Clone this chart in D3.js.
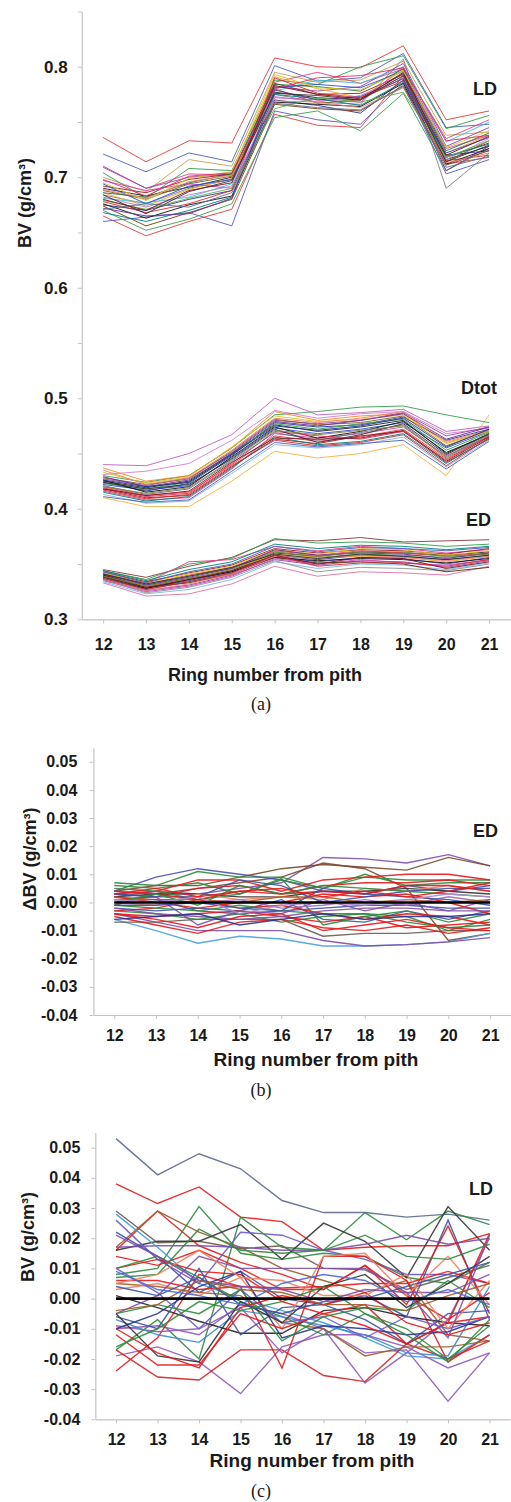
<!DOCTYPE html>
<html>
<head>
<meta charset="utf-8">
<script src="https://cdn.jsdelivr.net/npm/d3@7"></script>
<style>
  body { margin: 0; background: #fff; }
  svg { display: block; }
  .tick text { font-family: "Liberation Sans", Arial, sans-serif; font-weight: bold; fill: #1a1a1a; }
  .lbl { font-family: "Liberation Sans", Arial, sans-serif; font-weight: bold; fill: #1a1a1a; }
  .cap { font-family: "Liberation Serif", "Times New Roman", serif; fill: #1a1a1a; }
</style>
</head>
<body>
<div id="chart"></div>
<script>
// ring numbers (x categories)
var rings = [12, 13, 14, 15, 16, 17, 18, 19, 20, 21];

// tick labels
var ticksA = [0.3, 0.35, 0.4, 0.45, 0.5, 0.55, 0.6, 0.65, 0.7, 0.75, 0.8, 0.85];
var ticksDelta = [-0.04, -0.03, -0.02, -0.01, 0, 0.01, 0.02, 0.03, 0.04, 0.05];

// (a) LD, one row per tree
var ldA = [
  [0.736,0.714,0.733,0.731,0.808,0.800,0.799,0.819,0.752,0.760],
  [0.721,0.705,0.722,0.714,0.801,0.787,0.790,0.812,0.745,0.748],
  [0.665,0.647,0.660,0.671,0.757,0.747,0.745,0.792,0.712,0.718],
  [0.660,0.664,0.668,0.656,0.760,0.752,0.748,0.785,0.703,0.716],
  [0.684,0.676,0.690,0.698,0.775,0.768,0.766,0.807,0.690,0.722],
  [0.670,0.652,0.662,0.676,0.754,0.760,0.742,0.776,0.706,0.726],
  [0.700,0.687,0.716,0.710,0.795,0.786,0.788,0.805,0.738,0.741],
  [0.704,0.681,0.708,0.706,0.788,0.784,0.800,0.810,0.744,0.756],
  [0.709,0.690,0.703,0.702,0.786,0.795,0.785,0.798,0.735,0.752],
  [0.710,0.690,0.700,0.703,0.782,0.778,0.782,0.803,0.728,0.745],
  [0.690,0.683,0.691,0.700,0.777,0.772,0.770,0.795,0.716,0.728],
  [0.688,0.680,0.694,0.701,0.780,0.767,0.770,0.790,0.714,0.733],
  [0.692,0.686,0.698,0.703,0.785,0.775,0.776,0.793,0.718,0.731],
  [0.686,0.674,0.689,0.699,0.791,0.780,0.772,0.797,0.722,0.738],
  [0.681,0.677,0.682,0.694,0.778,0.788,0.785,0.800,0.732,0.750],
  [0.697,0.688,0.694,0.690,0.772,0.770,0.768,0.800,0.726,0.738],
  [0.675,0.670,0.680,0.688,0.770,0.765,0.758,0.788,0.720,0.724],
  [0.686,0.682,0.695,0.703,0.784,0.782,0.778,0.798,0.724,0.740],
  [0.678,0.668,0.676,0.688,0.790,0.776,0.772,0.787,0.715,0.720],
  [0.676,0.663,0.675,0.683,0.768,0.766,0.764,0.785,0.712,0.726],
  [0.674,0.656,0.668,0.680,0.766,0.762,0.760,0.783,0.711,0.724],
  [0.682,0.673,0.684,0.692,0.773,0.768,0.774,0.791,0.716,0.735],
  [0.668,0.660,0.670,0.682,0.775,0.771,0.765,0.786,0.719,0.730],
  [0.694,0.676,0.692,0.698,0.781,0.784,0.781,0.796,0.722,0.736],
  [0.689,0.681,0.696,0.702,0.769,0.768,0.763,0.781,0.713,0.722],
  [0.672,0.665,0.667,0.681,0.779,0.770,0.773,0.789,0.706,0.728],
  [0.695,0.679,0.699,0.705,0.793,0.781,0.779,0.796,0.727,0.742],
  [0.679,0.671,0.681,0.690,0.762,0.772,0.768,0.777,0.718,0.733],
  [0.684,0.667,0.687,0.697,0.776,0.774,0.770,0.792,0.714,0.729],
  [0.698,0.683,0.701,0.704,0.780,0.790,0.792,0.799,0.733,0.738],
  [0.671,0.676,0.673,0.686,0.767,0.763,0.761,0.782,0.709,0.719],
  [0.680,0.670,0.688,0.695,0.783,0.775,0.771,0.794,0.720,0.737]
];

// (a) Dtot
var dtotA = [
  [0.440,0.439,0.450,0.467,0.500,0.485,0.487,0.490,0.470,0.475],
  [0.431,0.434,0.441,0.462,0.489,0.482,0.486,0.488,0.468,0.473],
  [0.410,0.402,0.402,0.425,0.452,0.446,0.450,0.458,0.430,0.485],
  [0.430,0.424,0.430,0.455,0.485,0.488,0.492,0.493,0.485,0.478],
  [0.437,0.425,0.430,0.455,0.488,0.480,0.484,0.486,0.460,0.470],
  [0.425,0.419,0.425,0.450,0.476,0.470,0.474,0.480,0.450,0.468],
  [0.422,0.417,0.421,0.446,0.473,0.468,0.472,0.478,0.455,0.470],
  [0.420,0.412,0.415,0.440,0.466,0.461,0.465,0.472,0.445,0.466],
  [0.418,0.410,0.412,0.438,0.463,0.459,0.466,0.470,0.442,0.463],
  [0.424,0.416,0.423,0.448,0.478,0.474,0.476,0.483,0.462,0.472],
  [0.427,0.421,0.428,0.451,0.480,0.477,0.480,0.487,0.466,0.474],
  [0.416,0.408,0.410,0.436,0.468,0.464,0.468,0.474,0.448,0.465],
  [0.413,0.405,0.407,0.432,0.458,0.455,0.458,0.465,0.438,0.462],
  [0.428,0.422,0.427,0.452,0.481,0.476,0.478,0.484,0.457,0.471],
  [0.423,0.418,0.424,0.449,0.477,0.472,0.477,0.481,0.453,0.469],
  [0.426,0.415,0.420,0.447,0.474,0.464,0.470,0.479,0.451,0.467],
  [0.419,0.411,0.414,0.441,0.470,0.466,0.463,0.470,0.444,0.466],
  [0.415,0.407,0.411,0.437,0.465,0.458,0.461,0.468,0.441,0.464],
  [0.433,0.423,0.429,0.456,0.484,0.479,0.481,0.485,0.459,0.470],
  [0.421,0.413,0.418,0.443,0.469,0.462,0.469,0.476,0.447,0.468],
  [0.417,0.409,0.413,0.439,0.462,0.457,0.460,0.467,0.439,0.464],
  [0.429,0.420,0.426,0.450,0.479,0.475,0.480,0.486,0.463,0.474],
  [0.411,0.406,0.408,0.434,0.460,0.456,0.459,0.462,0.436,0.461],
  [0.424,0.418,0.422,0.445,0.472,0.460,0.467,0.477,0.449,0.468],
  [0.435,0.422,0.428,0.453,0.482,0.478,0.482,0.488,0.461,0.471],
  [0.420,0.414,0.419,0.444,0.471,0.467,0.471,0.475,0.446,0.467],
  [0.418,0.412,0.416,0.442,0.464,0.463,0.464,0.471,0.443,0.465],
  [0.426,0.420,0.424,0.449,0.475,0.471,0.475,0.482,0.456,0.472]
];

// (a) ED
var edA = [
  [0.345,0.338,0.348,0.356,0.372,0.371,0.374,0.370,0.371,0.372],
  [0.344,0.336,0.350,0.355,0.373,0.369,0.370,0.369,0.366,0.368],
  [0.333,0.321,0.323,0.332,0.348,0.339,0.343,0.342,0.340,0.348],
  [0.340,0.333,0.352,0.354,0.366,0.362,0.366,0.364,0.360,0.363],
  [0.340,0.330,0.337,0.344,0.360,0.357,0.361,0.360,0.358,0.361],
  [0.342,0.332,0.340,0.347,0.362,0.358,0.362,0.360,0.357,0.360],
  [0.338,0.327,0.334,0.342,0.357,0.352,0.356,0.355,0.350,0.356],
  [0.336,0.326,0.331,0.340,0.354,0.349,0.353,0.352,0.347,0.353],
  [0.343,0.334,0.342,0.349,0.364,0.360,0.363,0.362,0.359,0.364],
  [0.337,0.328,0.335,0.343,0.358,0.354,0.358,0.357,0.354,0.358],
  [0.341,0.331,0.339,0.346,0.361,0.356,0.359,0.358,0.356,0.359],
  [0.339,0.330,0.336,0.345,0.359,0.356,0.357,0.356,0.352,0.357],
  [0.335,0.325,0.330,0.339,0.355,0.350,0.354,0.351,0.349,0.354],
  [0.334,0.323,0.327,0.336,0.352,0.346,0.350,0.349,0.345,0.351],
  [0.342,0.333,0.341,0.348,0.363,0.359,0.364,0.363,0.358,0.362],
  [0.339,0.328,0.336,0.343,0.356,0.353,0.355,0.354,0.351,0.355],
  [0.336,0.324,0.329,0.338,0.353,0.343,0.347,0.346,0.344,0.350],
  [0.344,0.335,0.345,0.352,0.368,0.364,0.367,0.366,0.363,0.366],
  [0.338,0.329,0.333,0.341,0.356,0.351,0.352,0.350,0.343,0.347],
  [0.341,0.331,0.338,0.346,0.363,0.358,0.360,0.359,0.355,0.360],
  [0.337,0.326,0.332,0.341,0.357,0.355,0.358,0.356,0.353,0.357],
  [0.343,0.333,0.343,0.350,0.366,0.361,0.365,0.364,0.362,0.365],
  [0.340,0.329,0.336,0.344,0.358,0.350,0.356,0.355,0.346,0.352],
  [0.339,0.330,0.337,0.345,0.361,0.357,0.361,0.361,0.357,0.359],
  [0.337,0.327,0.334,0.342,0.358,0.348,0.351,0.351,0.348,0.354],
  [0.341,0.332,0.339,0.347,0.359,0.355,0.359,0.357,0.354,0.358]
];

// (b) ED deviations
var edDelta = [
  [0.002,0.004,0.003,0.005,0.007,0.016,0.0155,0.014,0.017,0.013],
  [0.004,0.006,0.006,0.009,0.012,0.0135,0.0125,0.0115,0.016,0.013],
  [-0.001,0.003,0.005,0.007,0.009,0.014,0.012,0.005,-0.0135,-0.011],
  [0.004,0.009,0.012,0.010,0.008,0.004,0.003,0.006,0.004,0.006],
  [0.007,0.006,0.011,0.009,0.009,0.005,0.009,0.008,0.008,0.008],
  [0.006,0.005,0.007,0.003,0.008,0.005,0.010,0.006,0.007,0.007],
  [0.003,0.004,0.008,0.008,0.004,0.008,0.009,0.010,0.010,0.008],
  [0.001,0.002,0.005,0.006,0.003,0.006,0.007,0.007,0.008,0.006],
  [-0.006,-0.010,-0.0145,-0.012,-0.013,-0.0155,-0.0155,-0.015,-0.014,-0.011],
  [-0.004,-0.007,-0.010,-0.010,-0.010,-0.0135,-0.0155,-0.015,-0.014,-0.0125],
  [-0.007,-0.007,-0.006,-0.006,-0.006,-0.012,-0.011,-0.011,-0.010,-0.010],
  [-0.005,-0.008,-0.011,-0.007,-0.006,-0.009,-0.010,-0.008,-0.011,-0.009],
  [-0.003,-0.004,-0.006,-0.004,-0.007,-0.005,-0.004,-0.005,-0.010,-0.006],
  [-0.002,-0.003,-0.002,-0.003,0.001,-0.006,-0.007,-0.003,-0.006,-0.003],
  [0.001,0.001,-0.003,-0.004,-0.003,-0.002,-0.001,-0.001,-0.002,-0.002],
  [-0.004,-0.005,-0.004,-0.003,-0.005,-0.007,-0.005,-0.009,-0.008,-0.007],
  [0.003,0.002,-0.008,-0.003,-0.004,0.001,-0.003,0.000,-0.003,0.001],
  [0.002,0.003,0.003,0.002,0.002,0.004,0.004,0.005,0.004,0.003],
  [0.005,0.004,0.001,0.003,0.0085,-0.008,-0.005,-0.003,-0.007,-0.004],
  [0.002,0.000,-0.002,0.000,0.000,0.003,0.002,0.003,0.000,-0.004],
  [0.000,-0.001,0.003,0.001,0.002,0.001,0.005,0.004,0.006,0.004],
  [0.003,0.002,0.002,0.008,0.006,0.000,0.002,0.004,0.005,0.005],
  [-0.003,-0.002,0.001,-0.002,-0.001,-0.004,-0.006,-0.004,-0.005,-0.008],
  [0.001,0.001,0.000,0.001,-0.002,-0.001,0.001,-0.001,0.002,0.000],
  [-0.001,-0.002,-0.003,-0.001,-0.003,-0.004,-0.004,-0.007,-0.009,-0.008],
  [0.002,0.001,0.001,0.000,0.002,0.002,0.000,0.001,0.000,0.001],
  [0.004,0.003,0.001,0.004,0.003,0.004,0.003,0.006,0.006,0.004],
  [-0.001,-0.001,0.000,-0.002,-0.003,0.005,0.003,0.002,0.001,-0.001],
  [-0.002,-0.004,-0.005,-0.006,-0.005,-0.003,-0.002,-0.002,-0.003,-0.003],
  [-0.004,-0.006,-0.009,-0.005,-0.004,-0.010,-0.008,-0.006,-0.009,-0.010],
  [0.000,0.003,-0.001,0.006,0.003,0.006,0.005,0.004,0.003,0.002],
  [-0.006,-0.005,-0.004,-0.008,-0.006,-0.004,-0.006,-0.005,-0.005,-0.004],
  [0.001,0.000,0.002,-0.004,-0.001,0.000,-0.001,0.001,0.003,0.002],
  [0.003,0.005,0.002,0.004,0.005,0.002,0.004,0.002,0.004,0.007]
];

// (c) LD deviations
var ldDelta = [
  [0.053,0.041,0.048,0.043,0.0325,0.0285,0.0285,0.027,0.028,0.026],
  [0.038,0.0315,0.037,0.027,0.0255,0.016,0.017,0.0175,0.0175,0.0215],
  [0.029,0.0185,0.019,0.0165,0.0175,0.010,0.0095,0.003,0.007,0.011],
  [0.016,0.029,0.0175,0.012,0.008,0.003,0.011,0.001,-0.007,0.002],
  [0.017,0.029,0.022,0.017,0.010,0.006,0.002,0.006,-0.012,-0.014],
  [0.008,0.010,0.0305,0.015,0.013,0.015,0.014,0.007,0.005,0.012],
  [-0.017,-0.007,-0.020,0.027,0.017,0.016,0.0285,0.0195,0.029,0.0245],
  [0.016,0.019,0.019,0.0245,0.013,0.025,0.019,0.007,0.0305,0.016],
  [0.017,0.0175,0.0175,0.017,0.016,0.016,0.018,0.021,0.018,0.020],
  [0.028,0.017,0.005,0.000,-0.004,-0.008,-0.013,-0.019,-0.020,-0.012],
  [0.026,0.013,0.005,0.022,0.021,0.016,0.013,0.008,0.008,0.005],
  [0.022,0.014,0.002,0.009,0.000,-0.002,0.001,-0.006,0.026,-0.007],
  [0.014,0.011,0.016,0.010,0.003,0.003,0.011,-0.002,0.024,-0.005],
  [-0.019,-0.016,-0.021,-0.0315,-0.016,-0.012,-0.012,-0.016,-0.023,-0.018],
  [-0.010,-0.009,-0.012,-0.002,-0.005,-0.010,-0.018,-0.017,-0.034,-0.018],
  [-0.017,-0.026,-0.027,-0.017,-0.017,-0.0255,-0.0275,-0.015,-0.020,-0.014],
  [-0.024,-0.013,0.008,0.004,-0.023,0.014,0.014,0.006,-0.021,-0.012],
  [0.001,-0.003,-0.0075,-0.0115,-0.0115,-0.004,-0.003,-0.006,-0.008,-0.009],
  [-0.009,-0.011,-0.010,-0.003,-0.018,-0.010,-0.028,-0.018,-0.007,0.020],
  [0.005,0.004,0.002,0.001,-0.008,-0.010,-0.019,-0.016,-0.016,-0.014],
  [0.010,0.013,0.009,0.008,-0.001,-0.005,-0.002,-0.015,-0.008,0.0215],
  [0.010,0.014,0.007,-0.001,-0.006,-0.012,-0.005,-0.010,-0.020,-0.009],
  [-0.007,-0.012,-0.0145,-0.004,-0.006,-0.009,-0.012,-0.018,-0.019,0.004],
  [0.006,0.006,0.003,0.004,0.0035,0.004,0.005,0.005,0.009,0.005],
  [-0.006,-0.010,0.010,-0.012,-0.003,-0.002,-0.007,-0.015,-0.005,-0.004],
  [0.003,0.005,0.001,0.007,-0.010,0.014,0.015,0.001,0.014,-0.002],
  [-0.005,0.001,0.014,0.010,0.010,0.010,0.010,0.002,0.002,0.008],
  [0.007,0.008,0.023,0.016,0.015,0.016,0.021,0.014,0.013,0.018],
  [-0.010,-0.005,0.004,0.009,-0.013,-0.009,-0.010,-0.012,-0.011,-0.006],
  [-0.012,-0.022,-0.022,-0.005,-0.010,-0.005,-0.009,-0.015,-0.008,-0.006],
  [0.010,0.002,-0.010,0.003,-0.008,-0.006,-0.013,-0.006,-0.010,-0.006],
  [-0.005,-0.002,-0.005,0.003,-0.014,-0.006,-0.003,-0.004,0.006,-0.003],
  [-0.005,-0.019,-0.021,-0.001,-0.008,0.004,0.008,-0.003,0.005,0.014],
  [0.004,0.001,0.007,-0.002,-0.005,-0.001,0.000,0.004,0.008,0.012],
  [-0.010,-0.018,-0.023,-0.003,0.001,-0.002,0.002,-0.008,-0.012,-0.008],
  [0.005,0.008,0.016,0.007,0.006,0.001,0.001,0.008,-0.010,0.006],
  [0.021,0.014,0.006,0.004,0.003,-0.001,0.003,0.002,-0.013,0.021],
  [-0.016,-0.010,-0.001,-0.004,-0.001,0.004,-0.005,-0.012,-0.021,-0.007],
  [-0.004,-0.002,0.006,0.003,0.002,-0.002,-0.002,-0.004,0.001,0.005],
  [0.009,0.003,0.001,-0.002,0.005,0.008,0.006,-0.001,0.003,-0.002]
];

// colours (cycled per line)
var paletteLD = ['#e8383d','#4a5fc1','#e8383d','#5a5ab8','#808080','#3aa04a','#c8a050','#2e9e4a',
  '#e0408a','#8e44ad','#222222','#8b5a2b','#a01818','#f5a623','#3fc0d0','#d040c0','#2a3590',
  '#1e7a30','#d42a2a','#111111','#7a3a10','#b080d0','#008080','#3050d0','#f08070','#6a2a9a',
  '#e0c020','#60b040','#333333','#e03060','#607090','#801020'];
var paletteDtot = ['#c060c0','#d080d0','#f5b040','#3aa04a','#f08a20','#222222','#3050d0','#e8383d',
  '#a01818','#2a3590','#8e44ad','#e0408a','#7ab8e8','#8b5a2b','#2e9e4a','#111111','#e03060',
  '#008080','#e0c020','#607090','#d42a2a','#6a2a9a','#4a5fc1','#333333','#f08070','#808040',
  '#801020','#1f2f8f'];
var paletteED = ['#8b3a3a','#2e9e4a','#e070a0','#e0408a','#222222','#e8383d','#3050d0','#8e44ad',
  '#a01818','#2a3590','#3aa04a','#f5a623','#d040c0','#7ab8e8','#e0c020','#111111','#909090',
  '#008080','#5a2a10','#6a2a9a','#f08070','#4a5fc1','#801020','#808040','#d42a2a','#333333'];
var paletteDelta = ['#7e4fa8','#7b4a2e','#7b4a2e','#4a4fb0','#2e8b3d','#2e8b3d','#e41a1c','#e41a1c',
  '#4aa0e0','#7e4fa8','#6b5a50','#e41a1c','#2e8b3d','#3a53a4','#3a53a4','#e41a1c','#7e4fa8',
  '#333333','#2e8b3d','#e41a1c','#f08060','#3a53a4','#e41a1c','#9a6ac0','#2e8b3d','#a05a2c',
  '#e41a1c','#3a53a4','#7e4fa8','#e41a1c','#2e8b3d','#2a3590','#b08ad0','#e41a1c'];
var paletteC = ['#5a6890','#e41a1c','#6b5a50','#e41a1c','#a05a2c','#2e8b3d','#2e8b3d','#333333',
  '#7e4fa8','#3c9be0','#6a5acd','#3a53a4','#e41a1c','#8e5ab8','#8e5ab8','#d42020','#e41a1c',
  '#222222','#8e5ab8','#a0602c','#e41a1c','#2e8b3d','#3c8ad0','#e41a1c','#3a53a4','#f08060',
  '#7e4fa8','#2e8b3d','#2a3590','#e41a1c','#6a5acd','#2e8b3d','#333333','#3a53a4','#e41a1c',
  '#f08060','#7e4fa8','#2e8b3d','#a05a2c','#4a6ad0'];

var svg = d3.select('#chart').append('svg')
    .attr('width', 511)
    .attr('height', 1502);

function drawPanel(p) {
    var x = d3.scalePoint().domain(rings).range([p.x0, p.x1]).padding(0.5);
    var y = d3.scaleLinear().domain(p.domain).range([p.y0, p.y1]);

    var g = svg.append('g');

    var line = d3.line()
        .x(function(d, i) { return x(rings[i]); })
        .y(function(d) { return y(d); });

    p.groups.forEach(function(grp) {
        g.append('g').selectAll('path')
            .data(grp.rows)
            .enter().append('path')
            .attr('d', line)
            .attr('fill', 'none')
            .attr('stroke', function(d, i) { return grp.colors[i % grp.colors.length]; })
            .attr('stroke-width', p.lw)
            .attr('stroke-opacity', 0.9);
    });

    if (p.zero) {
        g.append('path')
            .attr('d', line(rings.map(function() { return 0; })))
            .attr('fill', 'none')
            .attr('stroke', '#000')
            .attr('stroke-width', 2.6);
    }

    var yAxis = d3.axisLeft(y)
        .tickValues(p.ticks)
        .tickFormat(p.fmt)
        .tickSize(4)
        .tickSizeOuter(0)
        .tickPadding(p.ypad);
    var ya = g.append('g').attr('transform', 'translate(' + p.x0 + ',0)').call(yAxis);

    var xAxis = d3.axisBottom(x).tickSize(4).tickSizeOuter(0).tickPadding(p.xpad);
    var xa = g.append('g').attr('transform', 'translate(0,' + p.y0 + ')').call(xAxis);

    [ya, xa].forEach(function(a) {
        a.select('.domain').attr('stroke', '#c4c4c4').attr('stroke-width', 1.2);
        a.selectAll('.tick line').attr('stroke', '#c4c4c4');
    });
    ya.selectAll('.tick text').style('font-size', p.yfs + 'px');
    xa.selectAll('.tick text').style('font-size', p.xfs + 'px');

    // axis titles
    g.append('text').attr('class', 'lbl')
        .attr('transform', 'translate(' + p.ytx + ',' + p.yty + ') rotate(-90)')
        .attr('text-anchor', 'middle')
        .attr('dominant-baseline', 'central')
        .style('font-size', '18px')
        .text(p.ytitle);

    g.append('text').attr('class', 'lbl')
        .attr('x', p.xtx).attr('y', p.xty)
        .attr('text-anchor', 'middle')
        .style('font-size', p.xtfs + 'px')
        .text('Ring number from pith');

    p.labels.forEach(function(l) {
        g.append('text').attr('class', 'lbl')
            .attr('x', l[1]).attr('y', l[2])
            .attr('text-anchor', 'end')
            .style('font-size', '18px')
            .text(l[0]);
    });

    g.append('text').attr('class', 'cap')
        .attr('x', 261).attr('y', p.capy)
        .attr('text-anchor', 'middle')
        .style('font-size', '18px')
        .text(p.cap);
}

drawPanel({
    x0: 81.7, x1: 510.5, y0: 619.3, y1: 11.5, domain: [0.3, 0.85],
    ticks: ticksA,
    fmt: function(v) { return (Math.round(v * 100) % 10 === 0 && v < 0.84) ? v.toFixed(1) : ''; },
    ypad: 10, xpad: 15, yfs: 17, xfs: 16, lw: 1,
    groups: [
        { rows: ldA, colors: paletteLD },
        { rows: dtotA, colors: paletteDtot },
        { rows: edA, colors: paletteED }
    ],
    zero: false,
    ytitle: 'BV (g/cm³)', ytx: 25, yty: 203,
    xtx: 265, xty: 681, xtfs: 18,
    labels: [['LD', 497, 95], ['Dtot', 497, 394], ['ED', 491, 526]],
    cap: '(a)', capy: 710
});

drawPanel({
    x0: 93.4, x1: 511, y0: 1015, y1: 747.7, domain: [-0.04, 0.055],
    ticks: ticksDelta,
    fmt: function(v) { return v.toFixed(2); },
    ypad: 12, xpad: 11, yfs: 16, xfs: 16, lw: 1.4,
    groups: [{ rows: edDelta, colors: paletteDelta }],
    zero: true,
    ytitle: 'ΔBV (g/cm³)', ytx: 30, yty: 859,
    xtx: 316, xty: 1066, xtfs: 19,
    labels: [['ED', 498, 837]],
    cap: '(b)', capy: 1096
});

drawPanel({
    x0: 95.3, x1: 510.3, y0: 1419.3, y1: 1132.6, domain: [-0.04, 0.055],
    ticks: ticksDelta,
    fmt: function(v) { return v.toFixed(2); },
    ypad: 11, xpad: 10, yfs: 16, xfs: 16, lw: 1.4,
    groups: [{ rows: ldDelta, colors: paletteC }],
    zero: true,
    ytitle: 'BV (g/cm³)', ytx: 28, yty: 1237,
    xtx: 312, xty: 1467, xtfs: 19,
    labels: [['LD', 493, 1195]],
    cap: '(c)', capy: 1497
});
</script>
</body>
</html>
